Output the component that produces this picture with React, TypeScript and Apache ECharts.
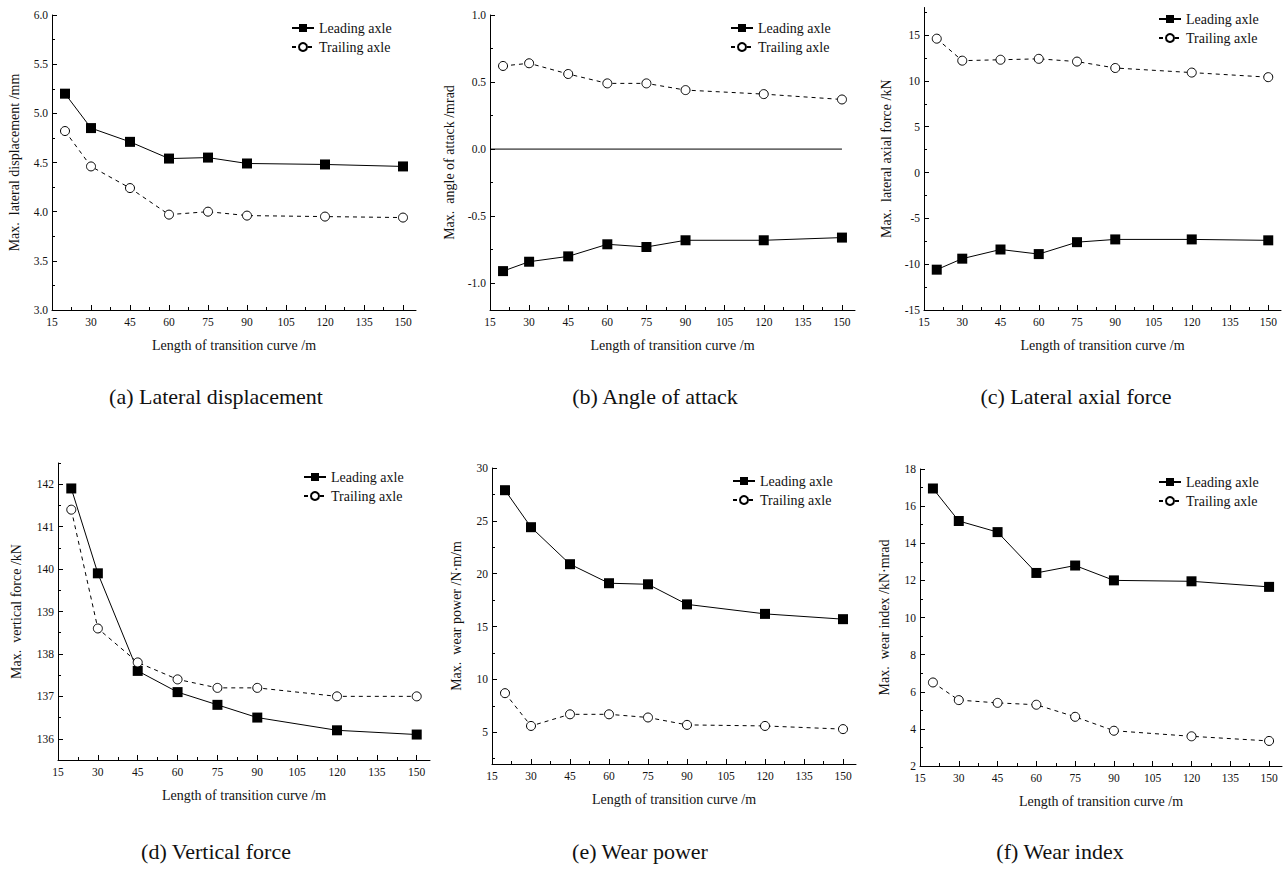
import React, { useEffect, useRef } from "react";
import * as echarts from "echarts";

const lengths = [20, 30, 45, 60, 75, 90, 120, 150];
const xTicks = [15, 30, 45, 60, 75, 90, 105, 120, 135, 150];

const dispLead = [5.2, 4.85, 4.71, 4.54, 4.55, 4.49, 4.48, 4.46];
const dispTrail = [4.82, 4.46, 4.24, 3.97, 4.0, 3.96, 3.95, 3.94];
const aoaLead = [-0.91, -0.84, -0.8, -0.71, -0.73, -0.68, -0.68, -0.66];
const aoaTrail = [0.62, 0.64, 0.56, 0.49, 0.49, 0.44, 0.41, 0.37];
const axialLead = [-10.6, -9.4, -8.4, -8.9, -7.6, -7.3, -7.3, -7.4];
const axialTrail = [14.6, 12.2, 12.3, 12.4, 12.1, 11.4, 10.9, 10.4];
const vertLead = [141.9, 139.9, 137.6, 137.1, 136.8, 136.5, 136.2, 136.1];
const vertTrail = [141.4, 138.6, 137.8, 137.4, 137.2, 137.2, 137.0, 137.0];
const powLead = [27.9, 24.4, 20.9, 19.1, 19.0, 17.1, 16.2, 15.7];
const powTrail = [8.7, 5.6, 6.7, 6.7, 6.4, 5.7, 5.6, 5.3];
const idxLead = [16.95, 15.2, 14.6, 12.4, 12.8, 12.0, 11.95, 11.65];
const idxTrail = [6.5, 5.55, 5.4, 5.3, 4.65, 3.9, 3.6, 3.35];
const zeroRef = [
  [15, 0],
  [150, 0],
];

const yTicksA = [3.0, 3.5, 4.0, 4.5, 5.0, 5.5, 6.0];
const yTicksB = [-1.0, -0.5, 0.0, 0.5, 1.0];
const yTicksC = [-15, -10, -5, 0, 5, 10, 15];
const yTicksD = [136, 137, 138, 139, 140, 141, 142];
const yTicksE = [5, 10, 15, 20, 25, 30];
const yTicksF = [2, 4, 6, 8, 10, 12, 14, 16, 18];

const FONT = "Liberation Serif";

type Panel = {
  lead: number[];
  trail: number[];
  yTicks: number[];
  yMin: number;
  yMax: number;
  yName: string;
  decimals: number;
  caption: string;
  grid: { left: number; top: number; width: number; height: number };
  xMax: number;
  yGap: number;
  legend: { left: number; top: number };
  capX: number;
  capY: number;
  zero?: boolean;
};

const panels: Panel[] = [
  {
    lead: dispLead,
    trail: dispTrail,
    yTicks: yTicksA,
    yMin: 3,
    yMax: 6,
    yName: "Max.  lateral displacement /mm",
    decimals: 1,
    caption: "(a) Lateral displacement",
    grid: { left: 52, top: 15, width: 364, height: 295 },
    xMax: 155,
    yGap: 31,
    legend: { left: 291, top: 21 },
    capX: 216,
    capY: 396,
  },
  {
    lead: aoaLead,
    trail: aoaTrail,
    yTicks: yTicksB,
    yMin: -1.2,
    yMax: 1.0,
    yName: "Max.  angle of attack /mrad",
    decimals: 1,
    caption: "(b) Angle of attack",
    grid: { left: 490, top: 15, width: 365, height: 295 },
    xMax: 155,
    yGap: 34,
    legend: { left: 730, top: 21 },
    capX: 655,
    capY: 396,
    zero: true,
  },
  {
    lead: axialLead,
    trail: axialTrail,
    yTicks: yTicksC,
    yMin: -15,
    yMax: 18,
    yName: "Max.  lateral axial force /kN",
    decimals: 0,
    caption: "(c) Lateral axial force",
    grid: { left: 924, top: 7.5, width: 357, height: 302.5 },
    xMax: 155,
    yGap: 31,
    legend: { left: 1158, top: 12 },
    capX: 1076,
    capY: 396,
  },
  {
    lead: vertLead,
    trail: vertTrail,
    yTicks: yTicksD,
    yMin: 135.5,
    yMax: 142.5,
    yName: "Max.  vertical force /kN",
    decimals: 0,
    caption: "(d) Vertical force",
    grid: { left: 58, top: 463, width: 372, height: 297 },
    xMax: 155,
    yGap: 35,
    legend: { left: 303, top: 470 },
    capX: 216,
    capY: 851,
  },
  {
    lead: powLead,
    trail: powTrail,
    yTicks: yTicksE,
    yMin: 2,
    yMax: 30,
    yName: "Max.  wear power /N·m/m",
    decimals: 0,
    caption: "(e) Wear power",
    grid: { left: 492, top: 468, width: 364, height: 296 },
    xMax: 155,
    yGap: 29,
    legend: { left: 732, top: 474 },
    capX: 640,
    capY: 851,
  },
  {
    lead: idxLead,
    trail: idxTrail,
    yTicks: yTicksF,
    yMin: 2,
    yMax: 18,
    yName: "Max.  wear index /kN·mrad",
    decimals: 0,
    caption: "(f) Wear index",
    grid: { left: 920, top: 469, width: 362, height: 297 },
    xMax: 155,
    yGap: 29,
    legend: { left: 1158, top: 475 },
    capX: 1060,
    capY: 851,
  },
];

const midpoints = (t: number[]) => {
  const out: number[] = [];
  for (let i = 0; i < t.length - 1; i++) out.push((t[i] + t[i + 1]) / 2);
  return out;
};

export default function App() {
  const ref = useRef<HTMLDivElement>(null);
  useEffect(() => {
    document.body.style.margin = "0";
    if (!ref.current) return;
    const chart = echarts.init(ref.current, null, { renderer: "svg" });
    const grids: any[] = [];
    const xAxes: any[] = [];
    const yAxes: any[] = [];
    const series: any[] = [];
    const legends: any[] = [];
    const graphics: any[] = [];
    const labelStyle = { color: "#111", fontFamily: FONT, fontSize: 11.5 };
    const nameStyle = { color: "#111", fontFamily: FONT, fontSize: 14 };
    panels.forEach((p, i) => {
      grids.push({ ...p.grid, containLabel: false });
      const xMinor = midpoints(xTicks);
      let yMinor = midpoints(p.yTicks);
      const step = p.yTicks[1] - p.yTicks[0];
      const below = p.yTicks[0] - step / 2;
      if (below >= p.yMin - 1e-9) yMinor = [below, ...yMinor];
      const above = p.yTicks[p.yTicks.length - 1] + step / 2;
      if (above <= p.yMax + 1e-9) yMinor = [...yMinor, above];
      xAxes.push({
        type: "value",
        gridIndex: i,
        min: 15,
        max: p.xMax,
        position: "bottom",
        axisLine: { onZero: false, lineStyle: { color: "#000", width: 1 } },
        axisTick: {
          inside: true,
          length: 5,
          customValues: xTicks,
          lineStyle: { color: "#000" },
        },
        axisLabel: { ...labelStyle, customValues: xTicks, margin: 6 },
        splitLine: { show: false },
        name: "Length of transition curve /m",
        nameLocation: "middle",
        nameGap: 28,
        nameTextStyle: nameStyle,
      });
      xAxes.push({
        type: "value",
        gridIndex: i,
        min: 15,
        max: p.xMax,
        position: "bottom",
        axisLine: { show: false, onZero: false },
        axisTick: {
          inside: true,
          length: 3,
          customValues: xMinor,
          lineStyle: { color: "#000" },
        },
        axisLabel: { show: false },
        splitLine: { show: false },
      });
      yAxes.push({
        type: "value",
        gridIndex: i,
        min: p.yMin,
        max: p.yMax,
        position: "left",
        axisLine: { show: true, onZero: false, lineStyle: { color: "#000", width: 1 } },
        axisTick: {
          show: true,
          inside: true,
          length: 5,
          customValues: p.yTicks,
          lineStyle: { color: "#000" },
        },
        axisLabel: {
          ...labelStyle,
          customValues: p.yTicks,
          margin: 4,
          formatter: (v: number) => v.toFixed(p.decimals),
        },
        splitLine: { show: false },
        name: p.yName,
        nameLocation: "middle",
        nameGap: p.yGap,
        nameTextStyle: nameStyle,
      });
      yAxes.push({
        type: "value",
        gridIndex: i,
        min: p.yMin,
        max: p.yMax,
        position: "left",
        axisLine: { show: false, onZero: false },
        axisTick: {
          show: true,
          inside: true,
          length: 3,
          customValues: yMinor,
          lineStyle: { color: "#000" },
        },
        axisLabel: { show: false },
        splitLine: { show: false },
      });
      if (p.zero) {
        series.push({
          type: "line",
          xAxisIndex: 2 * i,
          yAxisIndex: 2 * i,
          data: zeroRef,
          symbol: "none",
          lineStyle: { color: "#000", width: 1 },
          silent: true,
        });
      }
      series.push({
        name: "Leading axle",
        type: "line",
        xAxisIndex: 2 * i,
        yAxisIndex: 2 * i,
        data: lengths.map((x, j) => [x, p.lead[j]]),
        symbol: "rect",
        symbolSize: 10,
        itemStyle: { color: "#000" },
        lineStyle: { color: "#000", width: 1, type: "solid" },
        z: 3,
      });
      series.push({
        name: "Trailing axle",
        type: "line",
        xAxisIndex: 2 * i,
        yAxisIndex: 2 * i,
        data: lengths.map((x, j) => [x, p.trail[j]]),
        symbol: "circle",
        symbolSize: 9,
        itemStyle: { color: "#fff", borderColor: "#000", borderWidth: 1 },
        lineStyle: { color: "#000", width: 1, type: [4, 4] },
        z: 3,
      });
      legends.push({
        orient: "vertical",
        left: p.legend.left,
        top: p.legend.top,
        padding: 0,
        itemWidth: 22,
        itemHeight: 10,
        itemGap: 5,
        selectedMode: false,
        data: ["Leading axle", "Trailing axle"],
        textStyle: { color: "#111", fontFamily: FONT, fontSize: 14 },
      });
      graphics.push({
        type: "text",
        x: p.capX,
        y: p.capY,
        style: {
          text: p.caption,
          fill: "#111",
          font: `22px "${FONT}"`,
          textAlign: "center",
          textVerticalAlign: "middle",
        },
      });
    });
    chart.setOption({
      animation: false,
      backgroundColor: "#fff",
      grid: grids,
      xAxis: xAxes,
      yAxis: yAxes,
      series,
      legend: legends,
      graphic: graphics,
    });
    return () => chart.dispose();
  }, []);
  return <div ref={ref} style={{ width: 1284, height: 874 }} />;
}
